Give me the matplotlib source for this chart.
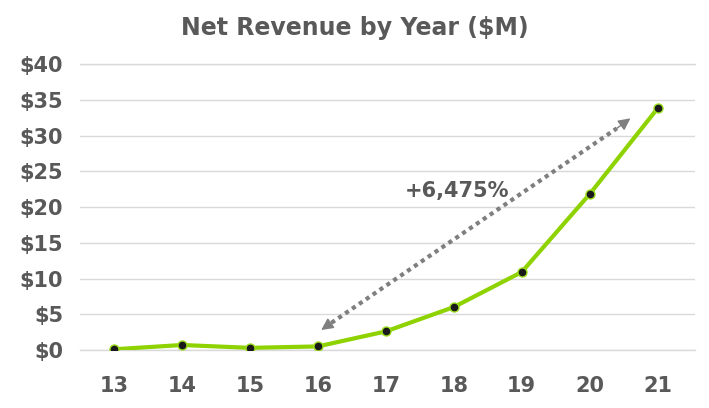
import numpy as np
import matplotlib.pyplot as plt

years = ["13", "14", "15", "16", "17", "18", "19", "20", "21"]
revenue = [0.1, 0.7, 0.3, 0.5, 2.6, 6.0, 10.9, 21.8, 33.8]
growth_label = "+6,475%"

x = np.arange(13, 22)
gray = "#595959"
arrow_gray = "#7f7f7f"

fig = plt.figure(figsize=(7.09, 4.08), dpi=100)
ax = fig.add_axes([80 / 709, 58 / 408, 615 / 709, 286 / 408])

ax.plot(x, revenue, color="#8ED200", linewidth=3, zorder=3,
        marker="o", markersize=6.5, markerfacecolor="#1a1a1a",
        markeredgecolor="#9BDD20", markeredgewidth=1)

# dotted double arrow
start, end = (16.2, 3.8), (20.4, 31.0)
ax.plot([start[0], end[0]], [start[1], end[1]], color=arrow_gray, lw=3,
        linestyle=(0, (1, 1)), dash_capstyle="butt")
ax.annotate("", xy=(16.05, 2.8), xytext=start,
            arrowprops=dict(arrowstyle="-|>", color=arrow_gray, lw=1,
                            mutation_scale=18, shrinkA=0, shrinkB=0))
ax.annotate("", xy=(20.6, 32.4), xytext=end,
            arrowprops=dict(arrowstyle="-|>", color=arrow_gray, lw=1,
                            mutation_scale=18, shrinkA=0, shrinkB=0))
ax.text(18.05, 22.3, growth_label, color=gray, fontsize=15, fontweight="bold",
        ha="center", va="center")

ax.set_xlim(12.5, 21.55)
ax.set_ylim(0, 40)
ax.set_xticks(x)
ax.set_xticklabels(years)
ax.set_yticks(range(0, 41, 5))
ax.set_yticklabels([f"${v}" for v in range(0, 41, 5)])
ax.tick_params(length=0, labelsize=15, labelcolor=gray)
ax.tick_params(axis="x", pad=19)
ax.tick_params(axis="y", pad=12)
for lab in ax.get_xticklabels() + ax.get_yticklabels():
    lab.set_fontweight("bold")
ax.grid(axis="y", color="#d9d9d9", linewidth=1.0)
ax.axhline(0, color="#d9d9d9", linewidth=1.0, clip_on=False, zorder=1)
ax.axhline(40, color="#d9d9d9", linewidth=1.0, clip_on=False, zorder=1)
ax.set_axisbelow(True)
for s in ax.spines.values():
    s.set_visible(False)

fig.suptitle("Net Revenue by Year ($M)", x=0.5, y=0.96, fontsize=17,
             fontweight="bold", color=gray)

fig.savefig("out.png", dpi=100)
